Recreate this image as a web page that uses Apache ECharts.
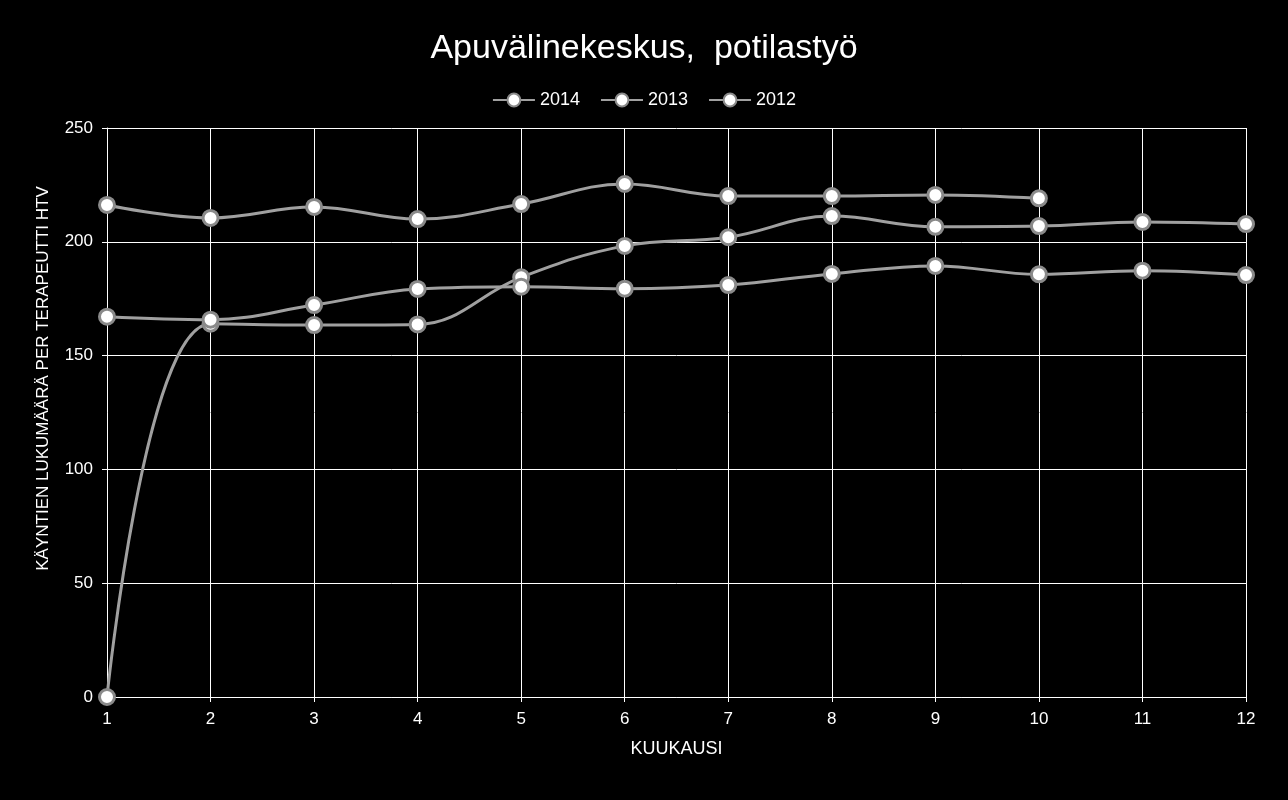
<!DOCTYPE html>
<html>
<head>
<meta charset="utf-8">
<script src="https://cdn.jsdelivr.net/npm/echarts@6/dist/echarts.min.js"></script>
<style>
html,body{margin:0;padding:0;background:#000;}
#chart{width:1288px;height:800px;}
</style>
</head>
<body>
<div id="chart"></div>
<script>
const months = ['1','2','3','4','5','6','7','8','9','10','11','12'];
const yTicks = [0, 50, 100, 150, 200, 250];
const seriesNames = ['2014', '2013', '2012'];
const values2014 = [216.2, 210.5, 215.3, 210.0, 216.6, 225.4, 220.1, 220.1, 220.6, 219.1];
const values2013 = [0, 164, 163.4, 163.7, 184.4, 198.2, 202.0, 211.3, 206.6, 206.9, 208.7, 207.8];
const values2012 = [167.1, 165.8, 172.2, 179.3, 180.3, 179.4, 181.0, 185.9, 189.4, 185.7, 187.3, 185.4];

const chart = echarts.init(document.getElementById('chart'));
const font = 'Liberation Sans, Arial, sans-serif';
const lineColor = '#a0a0a0';
function mkSeries(name, data) {
  return {
    name: name,
    type: 'line',
    data: data,
    smooth: 0.4,
    symbol: 'circle',
    symbolSize: 15,
    lineStyle: { color: lineColor, width: 3 },
    itemStyle: { color: '#ffffff', borderColor: '#8a8a8a', borderWidth: 3 },
    emphasis: { disabled: true },
    z: 3
  };
}
chart.setOption({
  backgroundColor: '#000000',
  animation: false,
  title: {
    text: 'Apuvälinekeskus,  potilastyö',
    left: 'center',
    top: 27,
    textStyle: { color: '#ffffff', fontFamily: font, fontSize: 34, fontWeight: 'normal' }
  },
  legend: {
    data: seriesNames,
    top: 86,
    left: 'center',
    itemWidth: 42,
    itemHeight: 16,
    itemGap: 20,
    textStyle: { color: '#ffffff', fontFamily: font, fontSize: 18 }
  },
  grid: { left: 107, right: 42, top: 128, bottom: 103, containLabel: false },
  xAxis: {
    type: 'category',
    data: months,
    boundaryGap: false,
    name: 'KUUKAUSI',
    nameLocation: 'middle',
    nameGap: 43,
    nameTextStyle: { color: '#ffffff', fontFamily: font, fontSize: 18 },
    axisLine: { lineStyle: { color: '#ffffff', width: 1 } },
    axisTick: { show: true, alignWithLabel: true, length: 5, lineStyle: { color: '#ffffff' } },
    axisLabel: { color: '#ffffff', fontFamily: font, fontSize: 17, margin: 14 },
    splitLine: { show: true, lineStyle: { color: '#ffffff', width: 1 } }
  },
  yAxis: {
    type: 'value',
    min: yTicks[0],
    max: yTicks[yTicks.length - 1],
    interval: 50,
    name: 'KÄYNTIEN LUKUMÄÄRÄ PER TERAPEUTTI HTV',
    nameLocation: 'middle',
    nameGap: 55,
    nameTextStyle: { color: '#ffffff', fontFamily: font, fontSize: 17, padding: [0, 0, 0, 68] },
    axisLine: { show: true, lineStyle: { color: '#ffffff', width: 1 } },
    axisTick: { show: true, length: 5, lineStyle: { color: '#ffffff' } },
    axisLabel: { color: '#ffffff', fontFamily: font, fontSize: 17, margin: 14 },
    splitLine: { show: true, lineStyle: { color: '#ffffff', width: 1 } }
  },
  series: [
    mkSeries(seriesNames[0], values2014),
    mkSeries(seriesNames[1], values2013),
    mkSeries(seriesNames[2], values2012)
  ]
});
</script>
</body>
</html>
